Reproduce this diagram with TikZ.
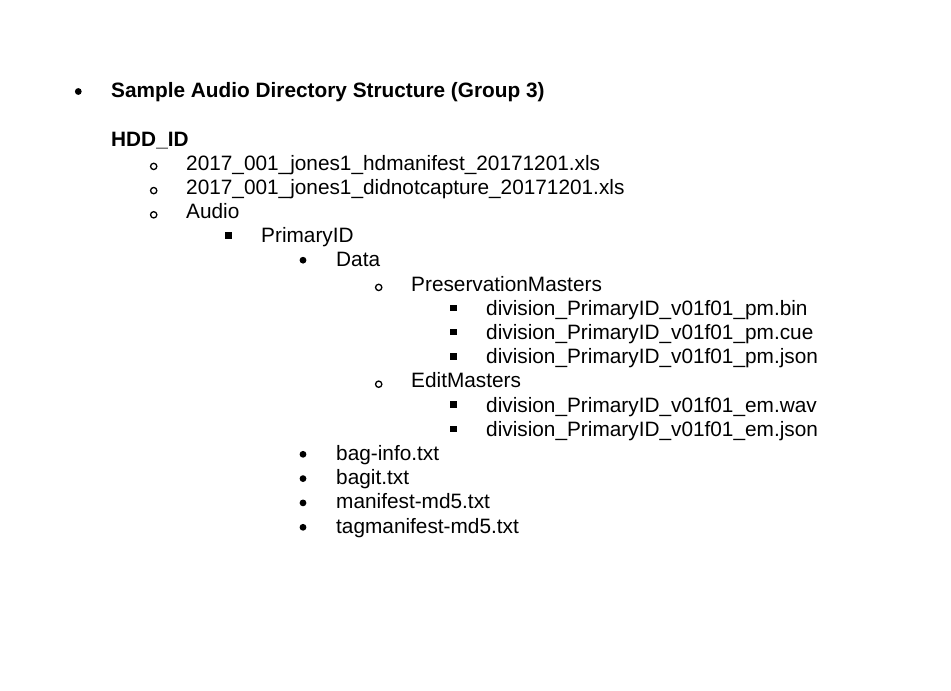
\documentclass[tikz,border=0pt]{standalone}
\usepackage{fontspec}
\setmainfont{Liberation Sans}

\begin{document}
\begin{tikzpicture}[x=1pt, y=-1pt, every node/.style={inner sep=0pt, anchor=base west,
                    font=\fontsize{20.8}{24}\selectfont}]
\tikzstyle{head}=[font=\fontsize{20.8}{24}\selectfont\bfseries]
\tikzstyle{disc}=[anchor=center, circle, fill=black, minimum size=6.8pt]
\tikzstyle{ring}=[anchor=center, circle, draw, line width=1.3pt, minimum size=6.3pt]
\tikzstyle{sqmark}=[anchor=center, fill=black, minimum size=6.5pt]

\useasboundingbox (0,0) rectangle (951,691);

% title
\node [disc] (m0) at (78.3,91.5) {};
\node [head] (title) at (111,97) {Sample Audio Directory Structure (Group 3)};
\node [head] (hdd) at (111,146) {HDD\_ID};

% HDD_ID
\node [ring] (m1) at (153.7,166.4) {};
\node (f1) at (186,170) {2017\_001\_jones1\_hdmanifest\_20171201.xls};
\node [ring] (m2) at (153.7,190.6) {};
\node (f2) at (186,194.2) {2017\_001\_jones1\_didnotcapture\_20171201.xls};
\node [ring] (m3) at (153.7,214.8) {};
\node (audio) at (186,218.4) {Audio};

% Audio
\node [sqmark] (m4) at (228.3,235.3) {};
\node (primary) at (261,242.6) {PrimaryID};

% PrimaryID
\node [disc] (m5) at (303,260.2) {};
\node (data) at (336,266.8) {Data};

% Data
\node [ring] (m6) at (378.7,287.4) {};
\node (pm) at (411,291) {PreservationMasters};
\node [sqmark] (m7) at (453.5,307.9) {};
\node (pm1) at (486,315.2) {division\_PrimaryID\_v01f01\_pm.bin};
\node [sqmark] (m8) at (453.5,332.1) {};
\node (pm2) at (486,339.4) {division\_PrimaryID\_v01f01\_pm.cue};
\node [sqmark] (m9) at (453.5,356.3) {};
\node (pm3) at (486,363.6) {division\_PrimaryID\_v01f01\_pm.json};
\node [ring] (m10) at (378.7,384.2) {};
\node (em) at (411,387.8) {EditMasters};
\node [sqmark] (m11) at (453.5,404.7) {};
\node (em1) at (486,412) {division\_PrimaryID\_v01f01\_em.wav};
\node [sqmark] (m12) at (453.5,428.9) {};
\node (em2) at (486,436.2) {division\_PrimaryID\_v01f01\_em.json};

% bag files
\node [disc] (m13) at (303,454.3) {};
\node (baginfo) at (336,460.4) {bag-info.txt};
\node [disc] (m14) at (303,478.6) {};
\node (bagit) at (336,484.6) {bagit.txt};
\node [disc] (m15) at (303,502.9) {};
\node (manifest) at (336,508.8) {manifest-md5.txt};
\node [disc] (m16) at (303,527.3) {};
\node (tagmanifest) at (336,533) {tagmanifest-md5.txt};
\end{tikzpicture}
\end{document}
